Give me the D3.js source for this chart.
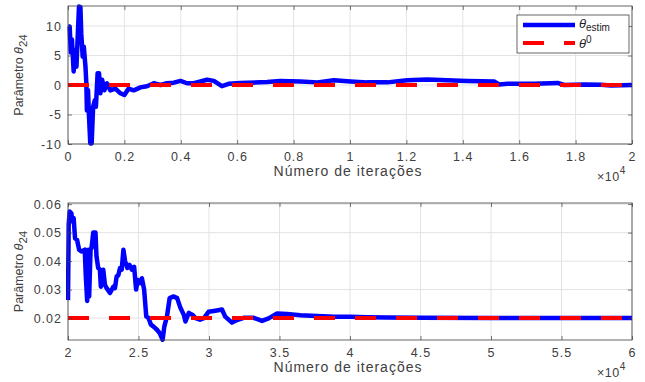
<!DOCTYPE html>
<html>
<head>
<meta charset="utf-8">
<script src="https://cdn.jsdelivr.net/npm/d3@7"></script>
<style>
  body { margin: 0; background: #fff; }
  svg { font-family: "Liberation Sans", Arial, sans-serif; }
</style>
</head>
<body>
<svg id="chart" width="645" height="382"></svg>
<script>
// ---- data ----
// upper panel: iterations 0 .. 20000
const topIter = [0, 60, 100, 140, 200, 260, 300, 340, 390, 440, 470, 520, 560, 620, 650, 670, 710, 740, 790, 840,
  890, 950, 990, 1050, 1100, 1150, 1210, 1290, 1380, 1500, 1680, 1860, 2000, 2150, 2330, 2570, 2800, 3040, 3280, 3510,
  3750, 3990, 4220, 4460, 4700, 4930, 5170, 5460, 5700, 6110, 7060, 7530, 8240, 8840, 9430, 10020, 10610, 11320, 12030, 12740,
  13450, 14160, 15110, 15290, 15590, 16530, 17360, 17600, 18310, 18900, 19260, 20000];
const topTheta = [10.0, 9.9, 5.5, 7.7, 2.3, 6.0, 3.1, 7.7, 13.3, 13.2, 8.8, 4.8, 6.5, 3.1, 0.3, -4.3, -0.9, -4.8, -9.9, -9.9,
  -3.7, -2.6, -3.7, 2.0, 2.0, -1.4, 0.9, -0.9, 0.3, -0.9, -0.6, -1.4, -1.7, -0.6, -0.9, -0.4, -0.2, 0.3, 0.0, 0.3,
  0.4, 0.7, 0.3, 0.3, 0.6, 0.9, 0.7, -0.2, 0.2, 0.35, 0.5, 0.7, 0.6, 0.45, 0.8, 0.6, 0.45, 0.45, 0.8, 0.95,
  0.8, 0.7, 0.6, 0.1, 0.2, 0.2, 0.35, 0.0, 0.1, 0.05, -0.1, 0.0];
const topTrue = 0;

// lower panel: iterations 20000 .. 60000
const botIter = [20000, 20050, 20120, 20240, 20310, 20400, 20500, 20640, 20790, 20950, 21190, 21260, 21360, 21430, 21500,
  21600, 21670, 21790, 21950, 22020, 22140, 22260, 22330, 22500, 22620, 22740, 22980, 23210, 23330, 23450, 23570, 23690,
  23810, 23930, 24050, 24210, 24360, 24520, 24690, 24830, 24950, 25120, 25240, 25400, 25550, 25710, 25880, 26070, 26310,
  26500, 26710, 26830, 27020, 27210, 27500, 27740, 27980, 28210, 28330, 28570, 28810, 29050, 29360, 29640, 29970, 30450,
  30920, 31150, 31630, 31980, 32460, 33170, 33760, 34230, 34830, 35540, 36480, 37670, 38850, 40040, 41220, 42640, 45010,
  50000, 60000];
const botTheta = [0.0263, 0.053, 0.0574, 0.0568, 0.054, 0.0551, 0.048, 0.0475, 0.044, 0.0434, 0.044, 0.035, 0.026, 0.044, 0.0276,
  0.044, 0.0446, 0.050, 0.050, 0.0417, 0.0376, 0.037, 0.031, 0.037, 0.0317, 0.0305, 0.0288, 0.031, 0.0305, 0.0346, 0.035, 0.0376,
  0.037, 0.044, 0.040, 0.0376, 0.0387, 0.037, 0.038, 0.030, 0.0334, 0.0323, 0.034, 0.030, 0.0206, 0.020, 0.0177, 0.017, 0.0159,
  0.0147, 0.0124, 0.017, 0.0206, 0.027, 0.0276, 0.027, 0.0235, 0.0212, 0.0188, 0.0218, 0.0212, 0.020, 0.0194, 0.020, 0.0222, 0.0226,
  0.023, 0.0205, 0.0184, 0.0193, 0.0201, 0.0201, 0.019, 0.0199, 0.0216, 0.0214, 0.021, 0.0207, 0.0205, 0.0205, 0.0203, 0.0202, 0.0201,
  0.0200, 0.0200];
const botTrue = 0.02;

const topXTicks = d3.range(0, 20001, 2000);
const topYTicks = [-10, -5, 0, 5, 10];
const botXTicks = d3.range(20000, 60001, 5000);
const botYTicks = [0.02, 0.03, 0.04, 0.05, 0.06];

const xLabel = "Número de iterações";
const yLabel = "Parâmetro ";

// ---- layout ----
const svg = d3.select("#chart");
const margin = { left: 68, right: 13 };
const plotW = 645 - margin.left - margin.right;
const axisColor = "#404040";
const gridColor = "#e3e3e3";

function drawPanel(p, idx) {
  const h = p.bottom - p.top;
  const g = svg.append("g").attr("transform", "translate(" + margin.left + "," + p.top + ")");

  const x = d3.scaleLinear().domain(p.xDomain).range([0, plotW]);
  const y = d3.scaleLinear().domain(p.yDomain).range([h, 0]);

  // grid
  g.append("g").selectAll("line").data(p.xTicks).join("line")
    .attr("x1", d => x(d)).attr("x2", d => x(d)).attr("y1", 0).attr("y2", h)
    .attr("stroke", gridColor).attr("stroke-width", 1);
  g.append("g").selectAll("line").data(p.yTicks).join("line")
    .attr("y1", d => y(d)).attr("y2", d => y(d)).attr("x1", 0).attr("x2", plotW)
    .attr("stroke", gridColor).attr("stroke-width", 1);

  // clip
  const clipId = "clip" + idx;
  g.append("clipPath").attr("id", clipId)
    .append("rect").attr("x", -2).attr("y", -2).attr("width", plotW + 4).attr("height", h + 4);

  const line = d3.line().x(d => x(d[0])).y(d => y(d[1]));
  const pts = d3.zip(p.iter, p.theta);
  g.append("path").datum(pts)
    .attr("clip-path", "url(#" + clipId + ")")
    .attr("fill", "none").attr("stroke", "#0000ff").attr("stroke-width", 4.5)
    .attr("stroke-linejoin", "round").attr("d", line);

  g.append("path").datum([[p.xDomain[0], p.trueVal], [p.xDomain[1], p.trueVal]])
    .attr("fill", "none").attr("stroke", "#ff0000").attr("stroke-width", 4)
    .attr("stroke-dasharray", "21,20").attr("d", line);

  // axes, ticks inward
  g.append("g").attr("transform", "translate(0," + h + ")")
    .call(d3.axisBottom(x).tickValues(p.xTicks).tickFormat(p.xFmt).tickSizeInner(-4).tickSizeOuter(0).tickPadding(8));
  g.append("g")
    .call(d3.axisLeft(y).tickValues(p.yTicks).tickFormat(p.yFmt).tickSizeInner(-4).tickSizeOuter(0).tickPadding(6));
  g.append("g").call(d3.axisTop(x).tickValues(p.xTicks).tickFormat("").tickSizeInner(-4).tickSizeOuter(0));
  g.append("g").attr("transform", "translate(" + plotW + ",0)")
    .call(d3.axisRight(y).tickValues(p.yTicks).tickFormat("").tickSizeInner(-4).tickSizeOuter(0));
  g.selectAll(".domain").remove();
  g.selectAll(".tick line").attr("stroke", axisColor).attr("stroke-width", 0.7);
  g.selectAll(".tick text").attr("fill", axisColor).attr("font-size", 12.5)
    .attr("letter-spacing", 1)
    .attr("font-family", "Liberation Sans, Arial, sans-serif");

  g.append("rect").attr("width", plotW).attr("height", h)
    .attr("fill", "none").attr("stroke", axisColor).attr("stroke-width", 0.8);

  // x label
  g.append("text").attr("x", plotW / 2 - 2).attr("y", h + 32)
    .attr("text-anchor", "middle").attr("font-size", 14).attr("letter-spacing", 1)
    .attr("fill", axisColor)
    .text(xLabel);

  // exponent
  const ex = g.append("text").attr("x", plotW - 35).attr("y", h + 37)
    .attr("font-size", 12.5).attr("letter-spacing", 0.5).attr("fill", axisColor);
  ex.append("tspan").text("×10");
  ex.append("tspan").attr("dy", -7).attr("font-size", 10).text("4");

  // y label
  const yl = g.append("text")
    .attr("transform", "translate(" + (-45) + "," + (h / 2) + ") rotate(-90)")
    .attr("text-anchor", "middle").attr("font-size", 12.5).attr("fill", axisColor);
  yl.append("tspan").text(yLabel);
  yl.append("tspan").attr("font-style", "italic").text("θ");
  yl.append("tspan").attr("dy", 4).attr("font-size", 11.5).text("24");

  return { g, x, y, h };
}

drawPanel({
  top: 6, bottom: 144,
  xDomain: [0, 20000], yDomain: [-10, 13.4],
  xTicks: topXTicks, yTicks: topYTicks,
  xFmt: d => String(+(d / 1e4).toFixed(1)), yFmt: d => String(d),
  iter: topIter, theta: topTheta, trueVal: topTrue
}, 0);

drawPanel({
  top: 203, bottom: 340,
  xDomain: [20000, 60000], yDomain: [0.0123, 0.0604],
  xTicks: botXTicks, yTicks: botYTicks,
  xFmt: d => String(+(d / 1e4).toFixed(1)), yFmt: d3.format(".2f"),
  iter: botIter, theta: botTheta, trueVal: botTrue
}, 1);

// legend (upper panel)
const lg = svg.append("g").attr("transform", "translate(517,15)");
lg.append("rect").attr("width", 112).attr("height", 38)
  .attr("fill", "#fff").attr("stroke", axisColor).attr("stroke-width", 0.8);
lg.append("line").attr("x1", 6).attr("x2", 58).attr("y1", 10).attr("y2", 10)
  .attr("stroke", "#0000ff").attr("stroke-width", 4.5);
lg.append("line").attr("x1", 6).attr("x2", 58).attr("y1", 28).attr("y2", 28)
  .attr("stroke", "#ff0000").attr("stroke-width", 4).attr("stroke-dasharray", "21,20");
const t1 = lg.append("text").attr("x", 62).attr("y", 13).attr("font-size", 13).attr("fill", "#222");
t1.append("tspan").attr("font-style", "italic").text("θ");
t1.append("tspan").attr("dy", 3).attr("font-size", 10).text("estim");
const t2 = lg.append("text").attr("x", 62).attr("y", 33).attr("font-size", 13).attr("fill", "#222");
t2.append("tspan").attr("font-style", "italic").text("θ");
t2.append("tspan").attr("dy", -5).attr("font-size", 10).text("0");
</script>
</body>
</html>
